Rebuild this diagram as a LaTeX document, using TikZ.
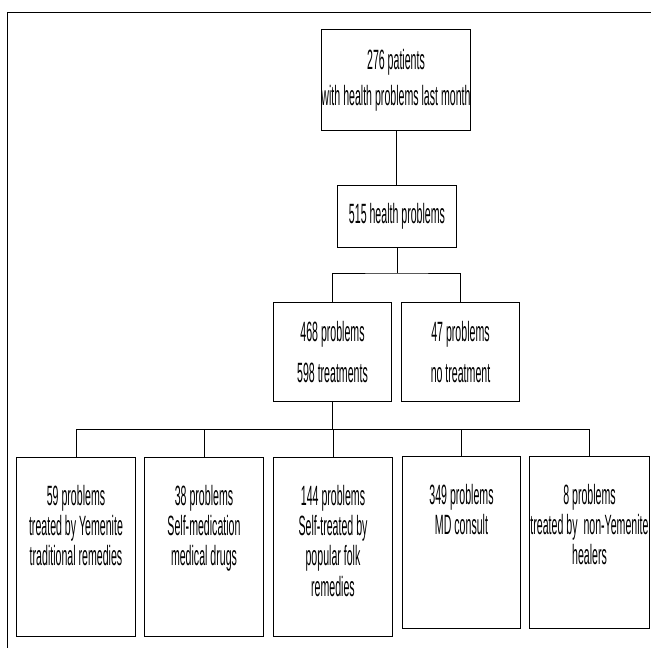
\documentclass[tikz,border=0pt]{standalone}
\usepackage{fontspec}
\setmainfont{Liberation Sans}[FakeStretch=0.38]
\usetikzlibrary{positioning}

\begin{document}
\begin{tikzpicture}[x=1bp,y=-1bp,
	box/.style={draw,rectangle,inner sep=0pt,line width=1.2bp,align=center,
		font=\fontsize{28}{30}\selectfont},
	txt/.style={inner sep=0pt,align=center,font=\fontsize{28}{30.5}\selectfont},
	link/.style={line width=0.8bp}]
	
	\useasboundingbox (0,0) rectangle (651,650);
	\draw[line width=1.5bp] (651,12.5) -- (7.5,12.5) -- (7.5,648);
	
	% top part
	\node[box,minimum width=150,minimum height=102] (pat) at (396,80)
		{276 patients\\[6bp]with health problems last month};
	\node[box,minimum width=120,minimum height=63] (hp) at (397,216.5)
		{515 health problems};
	\node[box,minimum width=119,minimum height=100] (trt) at (332.5,352)
		{468 problems\\[12bp]598 treatments};
	\node[box,minimum width=119,minimum height=100] (notrt) at (460.5,352)
		{47 problems\\[12bp]no treatment};
	
	% treatments
	\node[box,minimum width=120,minimum height=180] (yem) at (76,547) {};
	\node[box,minimum width=120,minimum height=180] (self) at (204,547) {};
	\node[box,minimum width=120,minimum height=180] (folk) at (333,547) {};
	\node[box,minimum width=119,minimum height=173] (md) at (461.5,542.5) {};
	\node[box,minimum width=121,minimum height=173] (non) at (589.5,542.5) {};
	
	\node[txt,below=28bp of yem.north] (yemtxt)
		{59 problems\\treated by Yemenite\\traditional remedies};
	\node[txt,below=28bp of self.north] (selftxt)
		{38 problems\\Self-medication\\medical drugs};
	\node[txt,below=28bp of folk.north] (folktxt)
		{144 problems\\Self-treated by\\popular folk\\remedies};
	\node[txt,below=28bp of md.north] (mdtxt)
		{349 problems\\MD consult};
	\node[txt,below=28bp of non.north] (nontxt)
		{8 problems\\treated by~ non-Yemenite\\healers};
	
	% lines
	\coordinate (split) at (397,273);
	\coordinate (fan) at (332.5,429.5);
	\draw[link] (pat.south) -- (pat.south |- hp.north);
	\draw[link] (hp.south) -- (split);
	\draw[link] (trt.north) |- (split) -| (notrt.north);
	\draw[link] (trt.south) -- (fan);
	\draw[link] (yem.north |- fan) -- (non.north |- fan);
	\foreach \b in {yem,self,folk,md,non}
		\draw[link] (\b.north) -- (\b.north |- fan);
	
\end{tikzpicture}
\end{document}
